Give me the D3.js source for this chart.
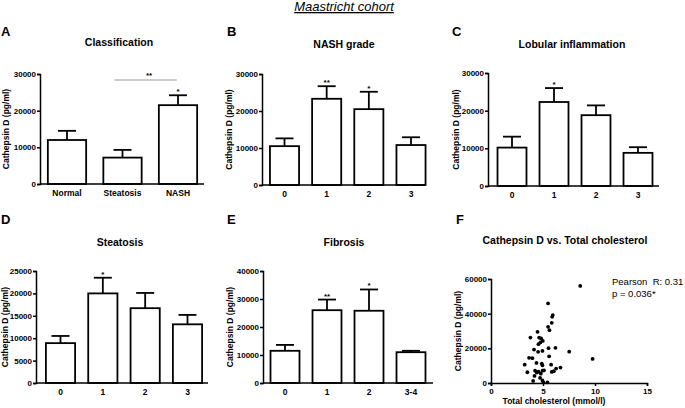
<!DOCTYPE html>
<html>
<head>
<meta charset="utf-8">
<script src="https://cdn.jsdelivr.net/npm/d3@7"></script>
<style>
  body { margin: 0; background: #fff; }
  svg { display: block; font-family: "Liberation Sans", Arial, sans-serif; }
</style>
</head>
<body>
<svg id="chart" width="685" height="408"></svg>
<script>
// A: classification
const classCats = ["Normal", "Steatosis", "NASH"];
const classMeans = [12000, 7200, 21500];
const classSem = [2500, 2100, 2700];
const classStars = ["", "", "*"];

// B: NASH grade
const gradeCats = ["0", "1", "2", "3"];
const gradeMeans = [10500, 23300, 20500, 10800];
const gradeSem = [2100, 3400, 4700, 2100];
const gradeStars = ["", "**", "*", ""];

// C: lobular inflammation
const lobCats = ["0", "1", "2", "3"];
const lobMeans = [10200, 22300, 18800, 8800];
const lobSem = [2900, 3700, 2600, 1500];
const lobStars = ["", "*", "", ""];

// D: steatosis
const steaCats = ["0", "1", "2", "3"];
const steaMeans = [8900, 20000, 16700, 13100];
const steaSem = [1600, 3500, 3400, 2100];
const steaStars = ["", "*", "", ""];

// E: fibrosis
const fibCats = ["0", "1", "2", "3-4"];
const fibMeans = [11500, 26000, 25800, 11000];
const fibSem = [2100, 3800, 7600, 500];
const fibStars = ["", "**", "*", ""];

// F: cathepsin D vs total cholesterol (mmol/l, pg/ml)
const cholX = [8.58, 5.49, 5.94, 5.88, 5.84, 5.49, 5.62, 4.47, 3.79, 4.63, 4.82, 4.98, 4.75, 4.56,
  5.53, 6.2, 7.52, 9.77, 4.14, 4.53, 4.95, 5.59, 3.66, 3.98, 3.24, 4.37, 4.88, 4.95, 5.78,
  3.5, 4.24, 4.4, 4.56, 4.79, 4.95, 5.1, 6.26, 6.68, 6.04, 5.84, 4.18, 4.72, 4.05, 5.04, 5.43, 4.95];
const cathY = [56000, 45900, 39200, 38200, 34700, 32400, 30500, 29500, 26200, 26200, 25700, 24300, 23400, 22400,
  20100, 20300, 18100, 13900, 19300, 18000, 18500, 15400, 14500, 14300, 10600, 11600, 11200, 10200, 10600,
  6200, 7100, 6000, 6600, 5400, 7100, 7300, 8300, 8900, 6800, 6400, 4100, 2900, 1200, 400, 400, 1500];

const svg = d3.select("#chart");
const yTitle = "Cathepsin D (pg/ml)";

svg.append("text")
  .attr("x", 344).attr("y", 11)
  .attr("text-anchor", "middle")
  .style("font-size", "13px").style("font-style", "italic")
  .style("text-decoration", "underline")
  .text("Maastricht cohort");

function panelFrame(p) {
  svg.append("text")
    .attr("x", p.letterX).attr("y", p.letterY)
    .style("font-size", "13px").style("font-weight", "bold")
    .text(p.letter);
  svg.append("text")
    .attr("x", p.titleX).attr("y", p.titleY)
    .attr("text-anchor", "middle")
    .style("font-size", "10.5px").style("font-weight", "bold")
    .text(p.title);
  svg.append("text")
    .attr("transform", `translate(${p.labelX},${(p.yTop + p.yBottom) / 2}) rotate(-90)`)
    .attr("text-anchor", "middle")
    .style("font-size", "8.5px").style("font-weight", "bold")
    .text(yTitle);
}

function yAxisDraw(y, ax, ticks) {
  const g = svg.append("g")
    .attr("transform", `translate(${ax},0)`)
    .call(d3.axisLeft(y).tickValues(ticks).tickSize(3).tickPadding(1).tickFormat(d3.format("d")));
  g.select(".domain").attr("stroke-width", 1.5);
  g.selectAll(".tick line").attr("stroke-width", 1.5);
  g.selectAll("text").style("font-size", "8px").style("font-weight", "bold")
    .style("font-family", "Liberation Sans, Arial, sans-serif");
  return g;
}

function barPanel(p, cats, means, sem, stars) {
  panelFrame(p);
  const y = d3.scaleLinear().domain([0, p.yMax]).range([p.yBottom, p.yTop]);
  const step = (p.c1 - p.c0) / (cats.length - 1);
  const x = d3.scaleBand().domain(cats)
    .range([p.c0 - step / 2, p.c1 + step / 2])
    .paddingInner(0.31).paddingOuter(0.155);
  const bw = x.bandwidth();

  const g = svg.append("g");
  // error bars (upper only)
  cats.forEach((c, i) => {
    const cx = x(c) + bw / 2;
    g.append("line")
      .attr("x1", cx).attr("x2", cx)
      .attr("y1", y(means[i])).attr("y2", y(means[i] + sem[i]))
      .attr("stroke", "#000").attr("stroke-width", 1.8);
    g.append("line")
      .attr("x1", cx - 9).attr("x2", cx + 9)
      .attr("y1", y(means[i] + sem[i])).attr("y2", y(means[i] + sem[i]))
      .attr("stroke", "#000").attr("stroke-width", 1.8);
    if (stars[i]) {
      g.append("text")
        .attr("x", cx).attr("y", y(means[i] + sem[i]) - 1)
        .attr("text-anchor", "middle")
        .style("font-size", "8px").style("font-weight", "bold")
        .text(stars[i]);
    }
  });
  g.selectAll("rect").data(cats).enter().append("rect")
    .attr("x", d => x(d))
    .attr("y", (d, i) => y(means[i]))
    .attr("width", bw)
    .attr("height", (d, i) => p.yBottom - y(means[i]))
    .attr("fill", "#fff").attr("stroke", "#000").attr("stroke-width", 1.8);

  yAxisDraw(y, p.ax, p.ticks);
  // x baseline + category labels
  svg.append("line")
    .attr("x1", p.ax).attr("x2", p.axEnd)
    .attr("y1", p.yBottom).attr("y2", p.yBottom)
    .attr("stroke", "#000").attr("stroke-width", 1.5);
  svg.selectAll(null).data(cats).enter().append("text")
    .attr("x", d => x(d) + bw / 2)
    .attr("y", p.yBottom + 12)
    .attr("text-anchor", "middle")
    .style("font-size", "8.5px").style("font-weight", "bold")
    .text(d => d);
  return { x, y };
}

// A
const pa = barPanel({ letter: "A", letterX: 1, letterY: 36, title: "Classification", titleX: 119, titleY: 46,
  ax: 40, axEnd: 204, labelX: 9, yTop: 74, yBottom: 184, yMax: 30000, ticks: [0, 10000, 20000, 30000], c0: 67, c1: 178 },
  classCats, classMeans, classSem, classStars);
// significance bracket Steatosis vs NASH
svg.append("line")
  .attr("x1", pa.x("Steatosis") + 11).attr("x2", pa.x("NASH") + 18)
  .attr("y1", 80).attr("y2", 80)
  .attr("stroke", "#999").attr("stroke-width", 1);
svg.append("text")
  .attr("x", (pa.x("Steatosis") + pa.x("NASH")) / 2 + 18).attr("y", 78)
  .attr("text-anchor", "middle")
  .style("font-size", "8px").style("font-weight", "bold").text("**");

// B
barPanel({ letter: "B", letterX: 227, letterY: 36, title: "NASH grade", titleX: 344, titleY: 48,
  ax: 262, axEnd: 425, labelX: 232, yTop: 74, yBottom: 185, yMax: 30000, ticks: [0, 10000, 20000, 30000], c0: 284.5, c1: 411 },
  gradeCats, gradeMeans, gradeSem, gradeStars);

// C
barPanel({ letter: "C", letterX: 452, letterY: 36, title: "Lobular inflammation", titleX: 572, titleY: 48,
  ax: 488, axEnd: 659, labelX: 459, yTop: 73, yBottom: 186, yMax: 30000, ticks: [0, 10000, 20000, 30000], c0: 512, c1: 638 },
  lobCats, lobMeans, lobSem, lobStars);

// D
barPanel({ letter: "D", letterX: 1, letterY: 224, title: "Steatosis", titleX: 120, titleY: 246,
  ax: 36, axEnd: 208, labelX: 8, yTop: 271, yBottom: 383, yMax: 25000, ticks: [0, 5000, 10000, 15000, 20000, 25000], c0: 60.5, c1: 187.5 },
  steaCats, steaMeans, steaSem, steaStars);

// E
barPanel({ letter: "E", letterX: 227, letterY: 224, title: "Fibrosis", titleX: 344, titleY: 246,
  ax: 263, axEnd: 433, labelX: 233, yTop: 271, yBottom: 383, yMax: 40000, ticks: [0, 10000, 20000, 30000, 40000], c0: 285, c1: 411 },
  fibCats, fibMeans, fibSem, fibStars);

// F scatter
const pf = { letter: "F", letterX: 456, letterY: 224, title: "Cathepsin D vs. Total cholesterol", titleX: 565, titleY: 244,
  ax: 491, labelX: 461, yTop: 279, yBottom: 383 };
panelFrame(pf);
const fx = d3.scaleLinear().domain([0, 15]).range([491, 647]);
const fy = d3.scaleLinear().domain([0, 60000]).range([383, 279]);
yAxisDraw(fy, 491, [0, 20000, 40000, 60000]);
const fxg = svg.append("g")
  .attr("transform", "translate(0,383)")
  .call(d3.axisBottom(fx).tickValues([0, 5, 10, 15]).tickSize(3).tickPadding(2));
fxg.select(".domain").attr("stroke-width", 1.5);
fxg.selectAll(".tick line").attr("stroke-width", 1.5);
fxg.selectAll("text").style("font-size", "8px").style("font-weight", "bold")
  .style("font-family", "Liberation Sans, Arial, sans-serif");
svg.append("g").selectAll("circle").data(cholX).enter().append("circle")
  .attr("cx", d => fx(d))
  .attr("cy", (d, i) => fy(cathY[i]))
  .attr("r", 1.9)
  .attr("fill", "#000");
svg.append("text")
  .attr("x", 554).attr("y", 404)
  .attr("text-anchor", "middle")
  .style("font-size", "8.5px").style("font-weight", "bold")
  .text("Total cholesterol (mmol/l)");
svg.append("text")
  .attr("x", 612).attr("y", 285)
  .style("font-size", "9.5px").style("white-space", "pre")
  .text("Pearson  R: 0.31");
svg.append("text")
  .attr("x", 612).attr("y", 297)
  .style("font-size", "9.5px")
  .text("p = 0.036*");
</script>
</body>
</html>
